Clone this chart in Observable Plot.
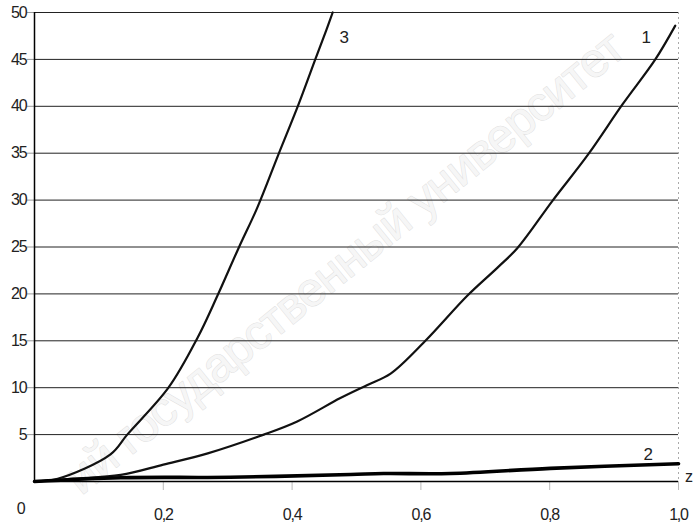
<!DOCTYPE html>
<html><head><meta charset="utf-8">
<script src="https://cdn.jsdelivr.net/npm/d3@7"></script>
<script src="https://cdn.jsdelivr.net/npm/@observablehq/plot@0.6"></script>
<style>body{margin:0;background:#fff}</style>
</head><body><div id="chart"></div>
<script>
// Curve 1
const c1x = [0, 0.06, 0.134, 0.200, 0.269, 0.356, 0.408, 0.475, 0.517, 0.553, 0.607, 0.672, 0.719, 0.750, 0.804, 0.860, 0.913, 0.964, 0.995];
const c1y = [0, 0.3, 0.7, 1.8, 3.0, 5.0, 6.4, 8.9, 10.3, 11.5, 15.0, 19.8, 22.8, 24.9, 29.9, 34.9, 40.2, 45.0, 48.6];
// Curve 2
const c2x = [0, 0.134, 0.304, 0.491, 0.542, 0.646, 0.801, 1.0];
const c2y = [0, 0.4, 0.45, 0.75, 0.85, 0.85, 1.4, 1.9];
// Curve 3
const c3x = [0, 0.036, 0.118, 0.144, 0.208, 0.253, 0.284, 0.317, 0.346, 0.379, 0.410, 0.436, 0.453, 0.463];
const c3y = [0, 0.3, 2.9, 5.0, 10.0, 15.3, 19.8, 24.9, 29.2, 34.9, 40.2, 45.0, 48.1, 50];

const seriesNames = ["1", "2", "3"];
const seriesLabelX = [0.949, 0.952, 0.48];
const seriesLabelY = [47.3, 2.9, 47.3];

const yTicks = [5, 10, 15, 20, 25, 30, 35, 40, 45, 50];
const xTicks = [0.2, 0.4, 0.6, 0.8, 1.0];
const originLabel = ["0"];
const axisName = ["z"];
const watermark = ["ий государственный университет"];

const toPts = (xs, ys, s) => xs.map((x, i) => ({x, y: ys[i], s}));
const lines = [
  ...toPts(c1x, c1y, "1"),
  ...toPts(c3x, c3y, "3")
];
const line2 = toPts(c2x, c2y, "2");
const labels = seriesNames.map((s, i) => ({s, x: seriesLabelX[i], y: seriesLabelY[i]}));

const font = "Liberation Sans, Arial, sans-serif";

const chart = Plot.plot({
  width: 698,
  height: 528,
  marginLeft: 34,
  marginRight: 20,
  marginTop: 12,
  marginBottom: 47,
  style: {fontFamily: font, fontSize: "16px", color: "#222", background: "#fff", letterSpacing: "-1.2px"},
  x: {domain: [0, 1]},
  y: {domain: [0, 50]},
  marks: [
    Plot.text(watermark, {text: d => d, frameAnchor: "middle", rotate: -39, dx: -12, dy: 16, fontSize: 48, fill: "#f6f6f6", stroke: "#e0e0e0", strokeWidth: 1, fontFamily: font, clip: false}),
    Plot.gridY(yTicks, {stroke: "#222", strokeOpacity: 1, strokeWidth: 1}),
    Plot.ruleX([1.0], {stroke: "#aaa", strokeDasharray: "2,3"}),
    Plot.axisY({ticks: yTicks, tickSize: 7, tickPadding: 1, tickFormat: d => String(d), stroke: "#999", label: null, fill: "#222"}),
    Plot.axisX({ticks: xTicks, tickSize: 9, tickPadding: 18, tickFormat: d => d.toFixed(1).replace(".", ","), stroke: "#bbb", label: null, fill: "#222"}),
    Plot.text(originLabel, {text: d => d, x: 0, y: 0, dx: -14, dy: 27, fill: "#222", fontSize: 16}),
    Plot.text(axisName, {text: d => d, x: 1, y: 0, dx: 10, dy: -5, fill: "#222", fontSize: 16, clip: false}),
    Plot.line(lines, {x: "x", y: "y", z: "s", stroke: "#111", strokeWidth: 2.2, curve: "catmull-rom"}),
    Plot.line(line2, {x: "x", y: "y", stroke: "#000", strokeWidth: 3.6, curve: "catmull-rom"}),
    Plot.ruleY([0], {stroke: "#000", strokeWidth: 1.5}),
    Plot.ruleX([0], {stroke: "#000", strokeWidth: 1.5}),
    Plot.text(labels, {x: "x", y: "y", text: "s", fill: "#222", fontSize: 17})
  ]
});
document.getElementById("chart").appendChild(chart);
</script>
</body></html>
